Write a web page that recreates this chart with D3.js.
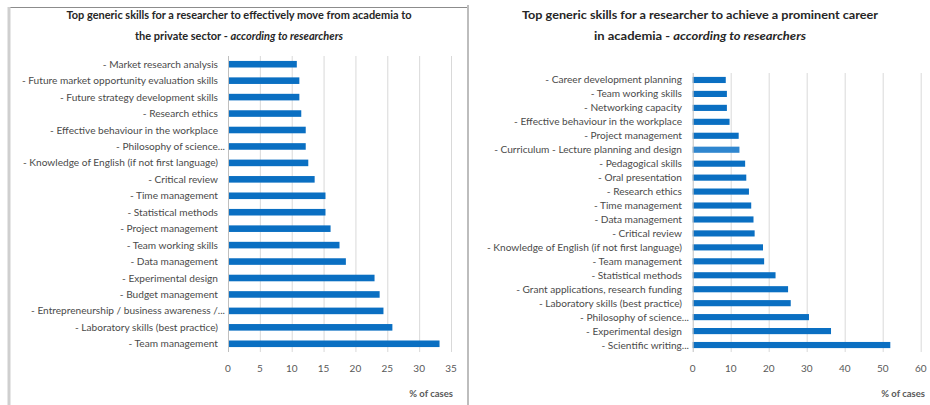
<!DOCTYPE html>
<html><head><meta charset="utf-8">
<script src="https://cdn.jsdelivr.net/npm/d3@7"></script>
<style>
html,body{margin:0;padding:0;background:#fff;}
svg{display:block;font-family:Lato,"Open Sans",sans-serif;}
</style></head>
<body>
<svg id="chart" width="930" height="405"></svg>
<script>
// ---- Left chart data ----
const leftCategories = [
  "- Market research analysis",
  "- Future market opportunity evaluation skills",
  "- Future strategy development skills",
  "- Research ethics",
  "- Effective behaviour in the workplace",
  "- Philosophy of science...",
  "- Knowledge of English (if not first language)",
  "- Critical review",
  "- Time management",
  "- Statistical methods",
  "- Project management",
  "- Team working skills",
  "- Data management",
  "- Experimental design",
  "- Budget management",
  "- Entrepreneurship / business awareness /...",
  "- Laboratory skills (best practice)",
  "- Team management"
];
const leftValues = [10.8, 11.2, 11.2, 11.5, 12.2, 12.2, 12.6, 13.6, 15.3, 15.3, 16.1, 17.5, 18.5, 23.0, 23.8, 24.4, 25.8, 33.2];
const leftTicks = [0, 5, 10, 15, 20, 25, 30, 35];
const leftTitle1 = "Top generic skills for a researcher to effectively move from academia to";
const leftTitle2a = "the private sector - ";
const leftTitle2b = "according to researchers";

// ---- Right chart data ----
const rightCategories = [
  "- Career development planning",
  "- Team working skills",
  "- Networking capacity",
  "- Effective behaviour in the workplace",
  "- Project management",
  "- Curriculum - Lecture planning and design",
  "- Pedagogical skills",
  "- Oral presentation",
  "- Research ethics",
  "- Time management",
  "- Data management",
  "- Critical review",
  "- Knowledge of English (if not first language)",
  "- Team management",
  "- Statistical methods",
  "- Grant applications, research funding",
  "- Laboratory skills (best practice)",
  "- Philosophy of science...",
  "- Experimental design",
  "- Scientific writing..."
];
const rightValues = [8.7, 9.0, 9.0, 9.7, 12.1, 12.3, 13.8, 14.1, 14.8, 15.4, 16.0, 16.3, 18.5, 18.8, 21.8, 25.1, 25.8, 30.6, 36.4, 52.0];
const rightTicks = [0, 10, 20, 30, 40, 50, 60];
const rightTitle1 = "Top  generic skills for a researcher to achieve a prominent career";
const rightTitle2a = "in academia - ";
const rightTitle2b = "according to researchers";
const axisTitle = "% of cases";

const svg = d3.select("#chart");

// panel frame (left panel)
svg.append("line").attr("x1",8).attr("x2",468).attr("y1",7.5).attr("y2",7.5).attr("stroke","#8c8c8c").attr("stroke-width",1);
svg.append("line").attr("x1",9).attr("x2",9).attr("y1",7).attr("y2",405).attr("stroke","#cfcfcf").attr("stroke-width",3);
svg.append("line").attr("x1",468).attr("x2",468).attr("y1",5).attr("y2",405).attr("stroke","#bdbdbd").attr("stroke-width",2);

function fitText(sel, target){
  const node = sel.node();
  const w = node.getComputedTextLength();
  sel.attr("textLength", target).attr("lengthAdjust","spacingAndGlyphs");
  return w;
}

function drawChart(cfg){
  const g = svg.append("g");
  const x = d3.scaleLinear().domain([0, cfg.max]).range([cfg.x0, cfg.x1]);
  const y = d3.scaleBand().domain(cfg.cats).range([cfg.y0, cfg.y1]).paddingInner(cfg.pad).paddingOuter(cfg.pad/2);

  // gridlines
  g.append("g").selectAll("line").data(cfg.ticks.filter(t=>t>0)).join("line")
    .attr("x1", d=>x(d)+0.5).attr("x2", d=>x(d)+0.5)
    .attr("y1", cfg.y0).attr("y2", cfg.y1)
    .attr("stroke", "#d9d9d9").attr("stroke-width", 1);

  // bars
  g.append("g").selectAll("rect").data(cfg.cats).join("rect")
    .attr("x", x(0))
    .attr("y", d=>y(d))
    .attr("width", (d,i)=>x(cfg.vals[i]) - x(0))
    .attr("height", y.bandwidth())
    .attr("fill", (d,i)=> (cfg.light && cfg.light === d) ? "#2f86cf" : "#0a6fc2");

  // category axis line
  g.append("line").attr("x1", x(0)+0.5).attr("x2", x(0)+0.5).attr("y1", cfg.y0).attr("y2", cfg.y1)
    .attr("stroke", "#bfbfbf").attr("stroke-width", 1);

  // category labels
  const labels = g.append("g").selectAll("text").data(cfg.cats).join("text")
    .attr("x", d=> d.endsWith("...") ? cfg.labelX + 7 : cfg.labelX)
    .attr("y", d=>y(d) + y.bandwidth()/2)
    .attr("dy", "0.35em")
    .attr("text-anchor", "end")
    .attr("font-size", 10)
    .attr("fill", "#4a4a4a")
    .text(d=>d);
  // compress labels horizontally to match the narrow reference font
  const ref = labels.filter(d=>d.startsWith("- Knowledge of English"));
  const refW = ref.node().getComputedTextLength();
  const k = 195 / refW;
  labels.each(function(){
    const w = this.getComputedTextLength();
    d3.select(this).attr("textLength", w*k).attr("lengthAdjust","spacingAndGlyphs");
  });

  // value axis tick labels
  g.append("g").selectAll("text").data(cfg.ticks).join("text")
    .attr("x", d=>x(d)).attr("y", 372)
    .attr("text-anchor", "middle").attr("font-size", 10).attr("fill", "#595959")
    .text(d=>d);

  // axis title
  g.append("text").attr("x", cfg.axisTitleX).attr("y", 397).attr("text-anchor", "end")
    .attr("font-size", 9.5).attr("font-weight", "bold").attr("fill", "#595959").text(axisTitle);

  // titles
  const t1 = g.append("text").attr("x", cfg.titleX).attr("y", 19).attr("text-anchor","middle")
    .attr("font-size", 11).attr("font-weight","bold").attr("fill","#262626").text(cfg.title1);
  fitText(t1, cfg.title1W);
  const t2 = g.append("text").attr("x", cfg.titleX).attr("y", 40).attr("text-anchor","middle")
    .attr("font-size", 11).attr("font-weight","bold").attr("fill","#262626");
  t2.append("tspan").text(cfg.title2a);
  t2.append("tspan").attr("font-style","italic").text(cfg.title2b);
  fitText(t2, cfg.title2W);
}

drawChart({
  cats: leftCategories, vals: leftValues, ticks: leftTicks, max: 35,
  x0: 228, x1: 451, y0: 56, y1: 352, pad: 0.6, labelX: 218,
  axisTitleX: 453, titleX: 239, title1: leftTitle1, title1W: 345,
  title2a: leftTitle2a, title2b: leftTitle2b, title2W: 208
});

drawChart({
  cats: rightCategories, vals: rightValues, ticks: rightTicks, max: 60,
  x0: 692.7, x1: 920.7, y0: 73, y1: 352, pad: 0.56, labelX: 682,
  axisTitleX: 925, titleX: 700, title1: rightTitle1, title1W: 356,
  title2a: rightTitle2a, title2b: rightTitle2b, title2W: 212,
  light: "- Curriculum - Lecture planning and design"
});
</script>
</body></html>
